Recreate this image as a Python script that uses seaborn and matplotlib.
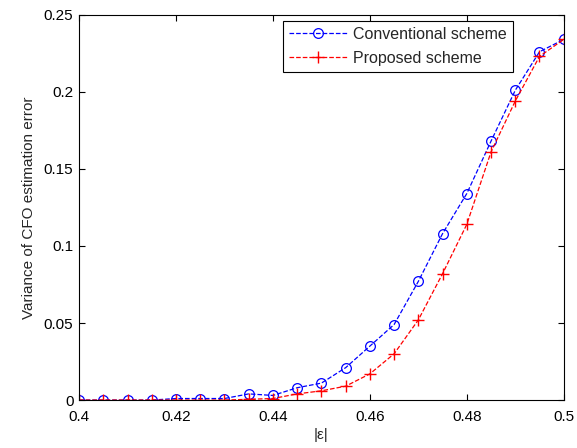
import numpy as np
import matplotlib
matplotlib.use("Agg")
import matplotlib.pyplot as plt
import pandas as pd
import seaborn as sns

eps = [0.400, 0.405, 0.410, 0.415, 0.420, 0.425, 0.430, 0.435, 0.440, 0.445, 0.450,
       0.455, 0.460, 0.465, 0.470, 0.475, 0.480, 0.485, 0.490, 0.495, 0.500]
conventional = [0.0, 0.0, 0.0, 0.0, 0.001, 0.001, 0.001, 0.004, 0.003, 0.008, 0.011,
                0.021, 0.035, 0.049, 0.077, 0.108, 0.134, 0.168, 0.201, 0.226, 0.234]
proposed = [0.0, 0.0, 0.0, 0.0, 0.0, 0.0, 0.0, 0.0005, 0.001, 0.004, 0.006,
            0.009, 0.017, 0.030, 0.052, 0.082, 0.114, 0.161, 0.194, 0.223, 0.234]

sns.set_style("ticks")
plt.rcParams['font.family'] = ['Liberation Sans', 'DejaVu Sans']

df = pd.DataFrame({"eps": eps, "Conventional scheme": conventional,
                   "Proposed scheme": proposed})

fig = plt.figure(figsize=(5.77, 4.48), dpi=100)
ax = fig.add_axes([0.137, 0.107, 0.84, 0.86])

sns.lineplot(data=df, x="eps", y="Conventional scheme", ax=ax, color="blue",
             linestyle="--", linewidth=0.9, marker="o", markersize=7,
             markerfacecolor="none", markeredgecolor="blue", markeredgewidth=0.9,
             label="Conventional scheme")
sns.lineplot(data=df, x="eps", y="Proposed scheme", ax=ax, color="red",
             linestyle="--", linewidth=0.9, marker="+", markersize=9,
             markeredgecolor="red", markeredgewidth=1.0,
             label="Proposed scheme")

ax.set_xlim(0.4, 0.5)
ax.set_ylim(0, 0.25)
ax.set_xticks([0.4, 0.42, 0.44, 0.46, 0.48, 0.5])
ax.set_xticklabels(["0.4", "0.42", "0.44", "0.46", "0.48", "0.5"])
ax.set_yticks([0, 0.05, 0.1, 0.15, 0.2, 0.25])
ax.set_yticklabels(["0", "0.05", "0.1", "0.15", "0.2", "0.25"])
ax.tick_params(direction="in", top=True, right=True, labelsize=11, length=4,
               width=0.8, colors="black")
ax.tick_params(axis="x", pad=7)
ax.tick_params(axis="y", pad=4)
for s in ax.spines.values():
    s.set_color("black")
    s.set_linewidth(0.8)
ax.set_xlabel("|ε|", fontsize=11, labelpad=3)
ax.set_ylabel("Variance of CFO estimation error", fontsize=11, labelpad=6)

leg = ax.legend(loc="upper right", bbox_to_anchor=(0.896, 0.985), borderaxespad=0,
                fontsize=11.5, fancybox=False, framealpha=1, edgecolor="black",
                handlelength=3.6, handletextpad=0.4, borderpad=0.4, labelspacing=0.55)
leg.get_frame().set_linewidth(0.8)

fig.savefig("out.png", dpi=100)
